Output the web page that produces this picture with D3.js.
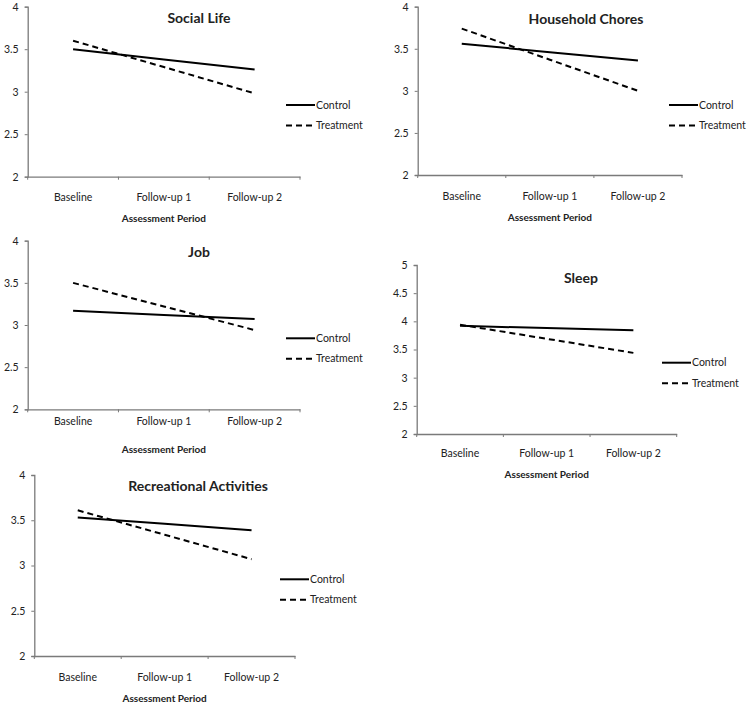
<!DOCTYPE html>
<html>
<head>
<meta charset="utf-8">
<script src="https://cdn.jsdelivr.net/npm/d3@7"></script>
<style>
  html, body { margin: 0; padding: 0; background: #fff; }
  svg { display: block; }
  text { font-family: Lato, "Open Sans", sans-serif; fill: #222; }
</style>
</head>
<body>
<svg id="chart" width="750" height="705"></svg>
<script>
// ---- data ----
const categories = ["Baseline", "Follow-up 1", "Follow-up 2"];
const seriesNames = ["Control", "Treatment"];
const panelTitles = ["Social Life", "Household Chores", "Job", "Sleep", "Recreational Activities"];
const xAxisTitle = "Assessment Period";

const socialControl     = [3.50, 3.38, 3.26];
const socialTreatment   = [3.60, 3.29, 2.98];
const choresControl     = [3.56, 3.46, 3.36];
const choresTreatment   = [3.74, 3.37, 3.00];
const jobControl        = [3.17, 3.12, 3.07];
const jobTreatment      = [3.50, 3.22, 2.94];
const sleepControl      = [3.92, 3.88, 3.84];
const sleepTreatment    = [3.94, 3.69, 3.44];
const recControl        = [3.53, 3.46, 3.39];
const recTreatment      = [3.61, 3.34, 3.07];

const yTicks4 = [2, 2.5, 3, 3.5, 4];
const yTicks5 = [2, 2.5, 3, 3.5, 4, 4.5, 5];

// ---- layout (positions only) ----
const panels = [
  { title: panelTitles[0], control: socialControl, treatment: socialTreatment, ticks: yTicks4,
    x0: 27.7, x1: 300, yTop: 6.7, yBot: 176.7, titleX: 199, titleY: 18, legX: 286, legY: 105, xlabY: 197, axTitleY: 218 },
  { title: panelTitles[1], control: choresControl, treatment: choresTreatment, ticks: yTicks4,
    x0: 417.7, x1: 682, yTop: 6.7, yBot: 175, titleX: 586, titleY: 19, legX: 669, legY: 105, xlabY: 196, axTitleY: 217 },
  { title: panelTitles[2], control: jobControl, treatment: jobTreatment, ticks: yTicks4,
    x0: 27.7, x1: 300, yTop: 240.7, yBot: 409.3, titleX: 199, titleY: 252, legX: 286, legY: 338.3, xlabY: 421, axTitleY: 449 },
  { title: panelTitles[3], control: sleepControl, treatment: sleepTreatment, ticks: yTicks5,
    x0: 416.7, x1: 676.7, yTop: 265, yBot: 434, titleX: 581, titleY: 278, legX: 662, legY: 362.7, xlabY: 453.5, axTitleY: 474.5 },
  { title: panelTitles[4], control: recControl, treatment: recTreatment, ticks: yTicks4,
    x0: 34.3, x1: 295, yTop: 475, yBot: 656, titleX: 198, titleY: 486, legX: 280, legY: 579.3, xlabY: 677, axTitleY: 698 }
];

const svg = d3.select("#chart");
const axisColor = "#7a7a7a";

panels.forEach(p => {
  const g = svg.append("g");
  const yMax = d3.max(p.ticks);
  const x = d3.scaleBand().domain(categories).range([p.x0, p.x1]).paddingInner(0).paddingOuter(0);
  const y = d3.scaleLinear().domain([2, yMax]).range([p.yBot, p.yTop]);

  // Y axis
  const yAxis = d3.axisLeft(y).tickValues(p.ticks).tickSize(3).tickPadding(6).tickFormat(d3.format("~g"));
  const yg = g.append("g").attr("transform", `translate(${p.x0},0)`).call(yAxis);
  yg.select(".domain").attr("stroke", axisColor).attr("stroke-width", 1.3);
  yg.selectAll(".tick line").attr("stroke", axisColor);
  yg.selectAll(".tick text").attr("font-size", 10.5).attr("fill", "#222").attr("font-family", "Lato, sans-serif");

  // X axis: labels centered in bands, ticks at band boundaries
  const xAxis = d3.axisBottom(x).tickSize(0).tickPadding(0);
  const xg = g.append("g").attr("transform", `translate(0,${p.yBot})`).call(xAxis);
  xg.select(".domain").attr("stroke", axisColor).attr("stroke-width", 1.3);
  xg.selectAll(".tick text")
    .attr("font-size", 10.5).attr("fill", "#222").attr("font-family", "Lato, sans-serif")
    .attr("y", p.xlabY - p.yBot).attr("dy", "0.35em");
  const edges = categories.map(c => x(c)).concat([x(categories[categories.length - 1]) + x.bandwidth()]);
  g.selectAll(".xedge").data(edges).join("line")
    .attr("x1", d => d).attr("x2", d => d)
    .attr("y1", p.yBot).attr("y2", p.yBot + 3)
    .attr("stroke", axisColor).attr("stroke-width", 1);

  // lines
  const line = d3.line()
    .x((d, i) => x(categories[i]) + x.bandwidth() / 2)
    .y(d => y(d));
  g.append("path").datum(p.control).attr("d", line)
    .attr("fill", "none").attr("stroke", "#000").attr("stroke-width", 2);
  g.append("path").datum(p.treatment).attr("d", line)
    .attr("fill", "none").attr("stroke", "#000").attr("stroke-width", 2)
    .attr("stroke-dasharray", "6,4");

  // title
  g.append("text").attr("x", p.titleX).attr("y", p.titleY)
    .attr("text-anchor", "middle").attr("dy", "0.35em")
    .attr("font-size", 14).attr("font-weight", "bold").attr("fill", "#000")
    .text(p.title);

  // axis title
  g.append("text").attr("x", (p.x0 + p.x1) / 2).attr("y", p.axTitleY)
    .attr("text-anchor", "middle").attr("dy", "0.35em")
    .attr("font-size", 10).attr("font-weight", "bold").attr("fill", "#000")
    .text(xAxisTitle);

  // legend
  const legend = g.append("g");
  seriesNames.forEach((name, i) => {
    const ly = p.legY + i * 20.5;
    legend.append("line")
      .attr("x1", p.legX).attr("x2", p.legX + 29)
      .attr("y1", ly).attr("y2", ly)
      .attr("stroke", "#000").attr("stroke-width", 2)
      .attr("stroke-dasharray", i === 1 ? "6,4" : null);
    legend.append("text")
      .attr("x", p.legX + 30).attr("y", ly).attr("dy", "0.35em")
      .attr("font-size", 10.5).attr("fill", "#222")
      .text(name);
  });
});
</script>
</body>
</html>
